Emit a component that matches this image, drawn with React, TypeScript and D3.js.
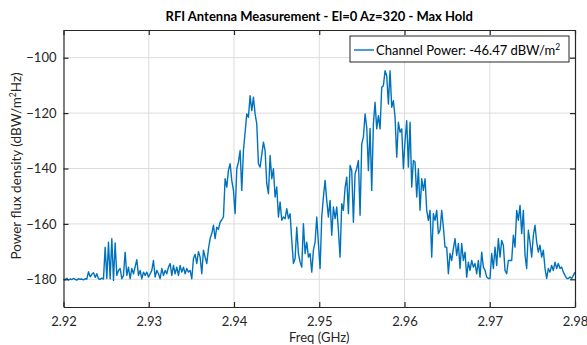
import React, { useRef, useEffect } from "react";
import * as d3 from "d3";

// sweep limits (GHz) and axis ticks
const freqStart = 2.92;
const freqEnd = 2.98;
const xTicks = [2.92, 2.93, 2.94, 2.95, 2.96, 2.97, 2.98];
const yTicks = [-180, -160, -140, -120, -100];

// max-hold trace, dBW/m^2Hz left to right
const noiseFloor = [
  -180.0, -180.2, -179.6, -180.3, -179.9, -180.1, -179.7, -180.0, -180.3, -179.8,
  -180.0, -179.9, -180.2, -179.8, -179.9,
  -177.3, -179.1, -178.2, -177.6, -179.3, -178.0,
  -179.8, -180.0, -179.6, -179.9,
];

const spurBurst = [
  -168.4, -179.7, -166.6, -179.8, -165.3, -180.4, -166.9, -178.6, -176.8, -176.1,
  -179.8, -178.6, -170.2, -178.6, -175.6, -179.8, -176.1, -178.0, -175.5, -172.9,
  -178.6, -176.8, -179.8, -177.4, -178.6, -177.4, -179.2, -178.0, -176.8, -173.2,
  -179.2, -176.8, -178.0, -179.8, -176.1, -178.6, -176.8, -178.0, -175.6, -174.3,
  -178.6, -175.0, -178.0, -175.6, -178.6, -175.0, -177.4, -175.6, -178.0, -176.1,
  -177.4,
];

const firstPeak = [
  -176.8, -179.8, -172.5, -171.0, -174.3, -170.0, -172.0, -178.0, -169.5, -172.0,
  -174.3, -169.0, -165.3, -163.5, -160.5, -165.3, -161.2, -162.0, -159.4, -158.5,
  -157.5, -143.7, -146.7, -140.7, -138.3, -144.3, -147.9, -156.3, -140.1, -137.7,
  -133.5, -147.9, -133.5, -127.0, -120.3, -121.5, -113.7, -119.1, -114.3, -120.3,
  -123.9, -138.3, -139.5, -135.0, -130.5, -133.5, -145.5, -149.1, -135.3, -143.7,
  -140.1, -150.3, -146.7, -157.5, -152.1, -158.7, -157.5, -158.1, -154.5, -158.1,
  -156.3, -166.0, -174.3, -172.5, -161.2, -170.7, -173.8, -175.6, -159.9, -170.7,
  -166.6, -172.0, -170.7, -177.4, -169.5, -166.6, -157.5, -167.1, -176.1, -157.5,
];

const secondPeak = [
  -150.3, -144.3, -151.5, -157.5, -151.5, -164.1, -153.9, -158.1, -153.9, -162.3,
  -172.0, -152.7, -155.1, -147.0, -143.1, -156.3, -138.9, -140.7, -159.4, -141.9,
  -140.0, -137.1, -156.9, -131.1, -128.7, -120.3, -125.1, -140.7, -125.5, -147.9,
  -123.9, -116.1, -125.7, -120.9, -125.7, -110.7, -110.1, -104.7, -106.5, -116.7,
  -104.7, -117.9, -115.5, -121.5, -135.9, -123.3, -126.9, -125.7, -140.1, -130.0,
  -122.7, -139.5, -123.3, -146.7, -137.1, -137.7, -150.3, -140.1, -155.1, -143.7,
  -147.9, -143.7, -155.1, -158.7, -155.1, -172.0, -156.3, -158.7, -155.1, -163.5,
  -162.3, -155.1, -161.2, -168.4, -168.4, -178.0, -170.7, -173.2, -168.9, -165.3,
  -171.4, -167.1, -176.1, -167.1, -173.2, -170.2, -179.2, -173.8, -176.8, -173.2,
  -175.6, -174.3, -178.0, -173.2, -179.2, -170.2, -175.6, -176.8, -179.2, -179.7,
];

const thirdPeak = [
  -179.7, -170.7, -176.1, -168.4, -175.0, -165.3, -172.0, -166.0, -167.7, -176.8,
  -178.0, -173.2, -173.2, -173.2, -164.1, -168.4, -155.1, -158.7, -153.3, -163.5,
  -155.1, -171.2, -176.1, -162.3, -166.6, -172.0, -164.1, -160.5, -166.6, -170.2,
  -167.7, -172.0, -169.5, -176.1, -179.7, -176.1, -177.4, -175.0, -176.8, -173.8,
  -176.1, -174.3, -176.1, -175.6, -177.4, -178.6, -179.7, -179.7, -179.2, -179.7,
  -178.6, -177.4,
];

const powerDb = [...noiseFloor, ...spurBurst, ...firstPeak, ...secondPeak, ...thirdPeak];

const title = "RFI Antenna Measurement - El=0 Az=320 - Max Hold";
const legendLabel = "Channel Power: -46.47 dBW/m";

export default function App() {
  const svgRef = useRef<SVGSVGElement>(null);

  useEffect(() => {
    const root = d3.select(svgRef.current);
    root.selectAll("*").remove();

    const W = 587;
    const H = 345;
    const margin = { top: 30, right: 12, bottom: 38, left: 63.5 };
    const font = "Lato, 'Open Sans', sans-serif";
    const axisColor = "#262626";

    root.attr("width", W).attr("height", H);

    const x = d3.scaleLinear().domain([freqStart, freqEnd]).range([margin.left, W - margin.right]);
    const y = d3.scaleLinear().domain([-190, -90]).range([H - margin.bottom, margin.top]);

    const step = (freqEnd - freqStart) / (powerDb.length - 1);
    const pts = powerDb.map((v, i) => ({ f: freqStart + i * step, v }));

    // grid
    const grid = root.append("g");
    grid.selectAll(".gx")
      .data(xTicks.slice(1, -1))
      .enter().append("line")
      .attr("x1", d => x(d)).attr("x2", d => x(d))
      .attr("y1", y(-190)).attr("y2", y(-90))
      .attr("stroke", "#dcdcdc").attr("stroke-width", 1);
    grid.selectAll(".gy")
      .data(yTicks)
      .enter().append("line")
      .attr("x1", x(freqStart)).attr("x2", x(freqEnd))
      .attr("y1", d => y(d)).attr("y2", d => y(d))
      .attr("stroke", "#dcdcdc").attr("stroke-width", 1);

    // trace
    const line = d3.line<{ f: number; v: number }>()
      .x(d => x(d.f))
      .y(d => y(d.v));

    root.append("path")
      .datum(pts)
      .attr("fill", "none")
      .attr("stroke", "#0072BD")
      .attr("stroke-width", 1.4)
      .attr("stroke-linejoin", "round")
      .attr("d", line);

    // axes (MATLAB-style box with inward ticks)
    const bottom = root.append("g")
      .attr("transform", `translate(0,${y(-190)})`)
      .call(d3.axisBottom(x).tickValues(xTicks).tickSizeInner(-5).tickSizeOuter(0).tickPadding(10).tickFormat(d3.format(".2f")));
    const top = root.append("g")
      .attr("transform", `translate(0,${y(-90)})`)
      .call(d3.axisTop(x).tickValues(xTicks).tickSizeInner(-5).tickSizeOuter(0).tickFormat(() => ""));
    const left = root.append("g")
      .attr("transform", `translate(${x(freqStart)},0)`)
      .call(d3.axisLeft(y).tickValues(yTicks).tickSizeInner(-5).tickSizeOuter(0).tickPadding(7).tickFormat(d3.format("d")));
    const right = root.append("g")
      .attr("transform", `translate(${x(freqEnd)},0)`)
      .call(d3.axisRight(y).tickValues(yTicks).tickSizeInner(-5).tickSizeOuter(0).tickFormat(() => ""));

    [bottom, top, left, right].forEach(g => {
      g.select(".domain").attr("stroke", axisColor).attr("stroke-width", 1.2);
      g.selectAll(".tick line").attr("stroke", axisColor).attr("stroke-width", 1.2);
      g.selectAll("text")
        .attr("fill", axisColor)
        .style("font-family", font)
        .style("font-size", "13px");
    });

    // title + labels
    root.append("text")
      .attr("x", (x(freqStart) + x(freqEnd)) / 2)
      .attr("y", 21)
      .attr("text-anchor", "middle")
      .style("font-family", font)
      .style("font-size", "13px")
      .style("font-weight", "bold")
      .attr("fill", "#000")
      .text(title);

    root.append("text")
      .attr("x", (x(freqStart) + x(freqEnd)) / 2)
      .attr("y", 342)
      .attr("text-anchor", "middle")
      .style("font-family", font)
      .style("font-size", "13px")
      .attr("fill", axisColor)
      .text("Freq (GHz)");

    const yl = root.append("text")
      .attr("transform", `translate(21,166) rotate(-90)`)
      .attr("text-anchor", "middle")
      .style("font-family", font)
      .style("font-size", "13.5px")
      .attr("fill", axisColor);
    yl.append("tspan").text("Power flux density (dBW/m");
    yl.append("tspan").attr("dy", -5).style("font-size", "8.5px").text("2");
    yl.append("tspan").attr("dy", 5).text("Hz)");

    // legend
    const lg = root.append("g").attr("transform", `translate(350,36)`);
    lg.append("rect")
      .attr("width", 219).attr("height", 26)
      .attr("fill", "#fff")
      .attr("stroke", axisColor).attr("stroke-width", 1);
    lg.append("line")
      .attr("x1", 4).attr("x2", 24).attr("y1", 14).attr("y2", 14)
      .attr("stroke", "#0072BD").attr("stroke-width", 1.4);
    const lt = lg.append("text")
      .attr("x", 26).attr("y", 18.5)
      .style("font-family", font)
      .style("font-size", "13px")
      .attr("fill", "#000");
    lt.append("tspan").text(legendLabel);
    lt.append("tspan").attr("dy", -5).style("font-size", "8.5px").text("2");
  }, []);

  return (
    <svg ref={svgRef} style={{ position: "absolute", left: 0, top: 0, display: "block" }} />
  );
}
